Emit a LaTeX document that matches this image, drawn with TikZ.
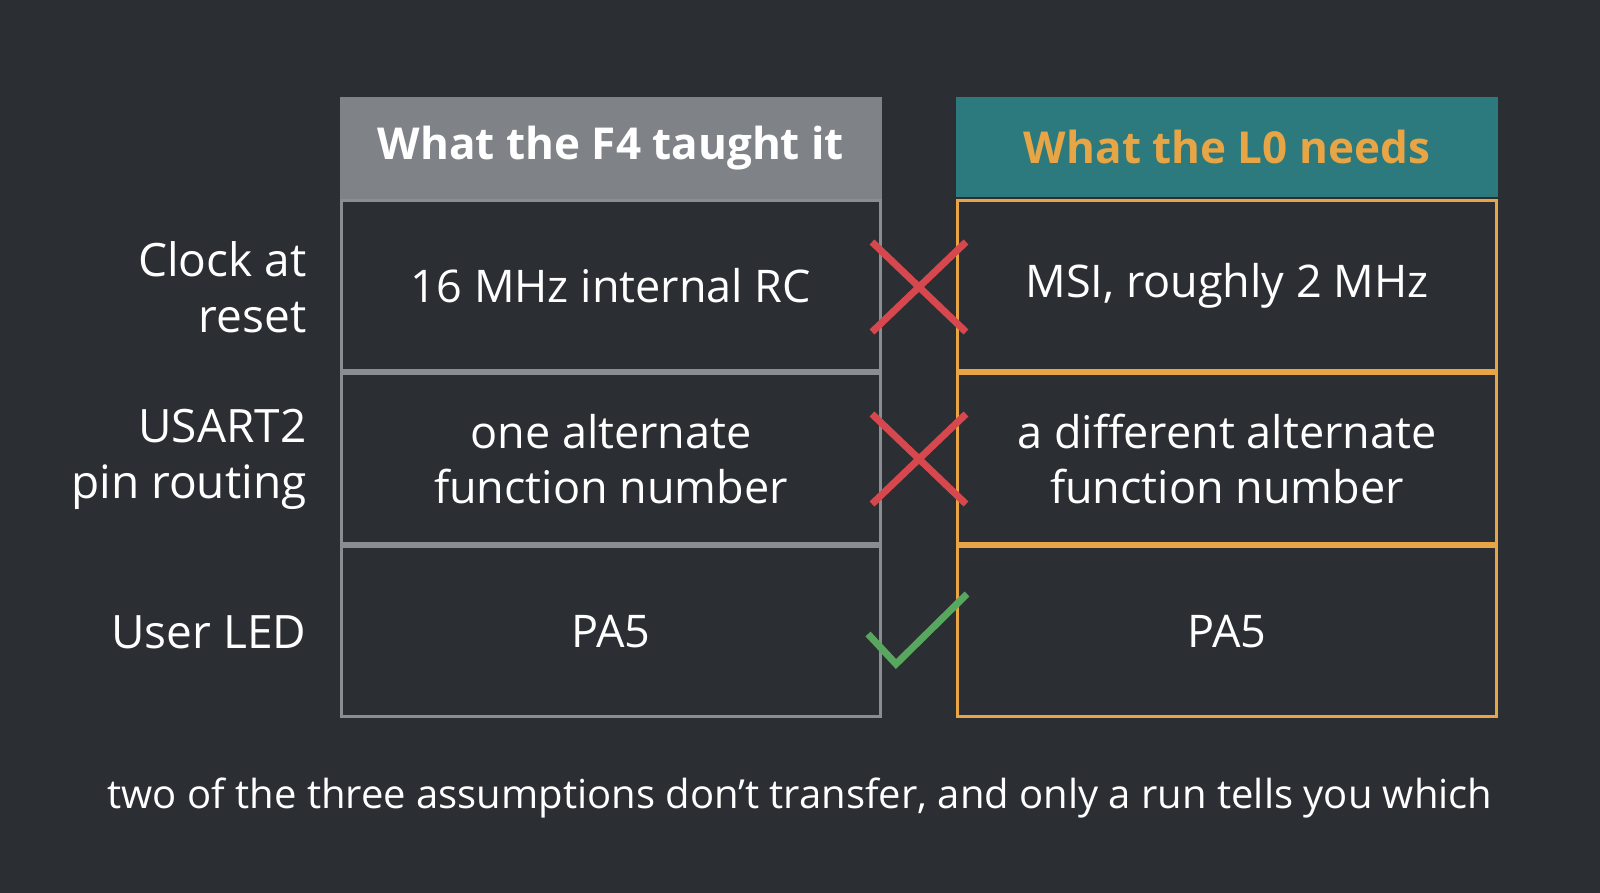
\documentclass[tikz,border=0pt]{standalone}
\usepackage{fontspec}
\setmainfont{Open Sans}
\usetikzlibrary{positioning}
\definecolor{bgdark}{HTML}{2B2E33}
\definecolor{hdgray}{HTML}{7F8287}
\definecolor{hdteal}{HTML}{2C7A7D}
\definecolor{edgegray}{HTML}{8A8D92}
\definecolor{edgeorange}{HTML}{E8A545}
\definecolor{crossred}{HTML}{D6474E}
\definecolor{tickgreen}{HTML}{58A75E}
\tikzset{
  cell/.style={draw, line width=3pt, minimum width=539pt, minimum height=170pt, inner sep=0pt, text=white, align=center, font=\fontsize{45}{55}\selectfont},
  head/.style={minimum width=542pt, minimum height=102pt, inner sep=0pt, font=\fontsize{44}{54}\selectfont\bfseries},
  rowlabel/.style={anchor=east, align=right, text=white, font=\fontsize{46}{56}\selectfont},
  markline/.style={line width=7pt},
}
\begin{document}
\begin{tikzpicture}[x=1pt,y=1pt,yscale=-1]
\fill[bgdark] (0,0) rectangle (1600,893);
\useasboundingbox (0,0) rectangle (1600,893);

% headers
\node[head, fill=hdgray, text=white] (lhead) at (611,148) {What the F4 taught it};
\node[head, fill=hdteal, text=edgeorange, minimum height=100pt] (rhead) at (1227,147) {What the L0 needs};

% left column
\node[cell, draw=edgegray, below=0pt of lhead] (lclk) {16 MHz internal RC};
\node[cell, draw=edgegray, below=0pt of lclk] (lpin) {one alternate\\function number};
\node[cell, draw=edgegray, below=0pt of lpin] (lled) {PA5};

% right column
\node[cell, draw=edgeorange, below=2pt of rhead] (rclk) {MSI, roughly 2 MHz};
\node[cell, draw=edgeorange, below=0pt of rclk] (rpin) {a different alternate\\function number};
\node[cell, draw=edgeorange, below=0pt of rpin] (rled) {PA5};

% row labels
\node[rowlabel] (tclk) at (310,287) {Clock at\\reset};
\node[rowlabel] (tpin) at (310,459) {USART2\\pin routing};
\node[rowlabel] (tled) at (310,632) {User LED};

% marks
\coordinate (xc1) at (919,287);
\coordinate (xc2) at (919,459);
\draw[markline, crossred] ([shift={(-47,-45)}]xc1) -- ([shift={(47,45)}]xc1);
\draw[markline, crossred] ([shift={(-47,45)}]xc1) -- ([shift={(47,-45)}]xc1);
\draw[markline, crossred] ([shift={(-47,-45)}]xc2) -- ([shift={(47,45)}]xc2);
\draw[markline, crossred] ([shift={(-47,45)}]xc2) -- ([shift={(47,-45)}]xc2);
\draw[markline, tickgreen] (868,634) -- (896,664) -- (967,594);

\node[text=white, font=\fontsize{40}{48}\selectfont] (note) at (800,798) {two of the three assumptions don’t transfer, and only a run tells you which};
\end{tikzpicture}
\end{document}
